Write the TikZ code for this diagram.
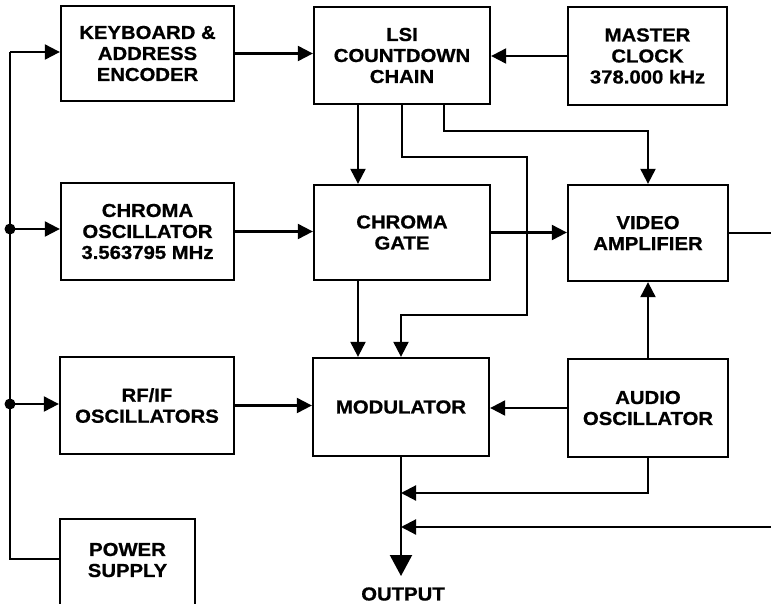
\documentclass[tikz,border=0pt]{standalone}
\usepackage{fontspec}
\setmainfont{Liberation Sans}[FakeStretch=1.08,FakeBold=0.8]
\usetikzlibrary{arrows.meta,calc}
\tikzset{
  blk/.style={draw, line width=2.3pt, inner sep=0pt, align=center,
    font=\bfseries\fontsize{18.8}{21}\selectfont},
  lbl/.style={inner sep=0pt, align=center, font=\bfseries\fontsize{18.8}{21}\selectfont},
  wire/.style={line width=2.1pt},
  arr/.style={wire, -{Triangle[length=15pt,width=15pt]}},
  bigarr/.style={wire, -{Triangle[length=21pt,width=22pt]}},
  dot/.style={circle, fill, inner sep=0pt, minimum size=11pt}
}
\begin{document}
\begin{tikzpicture}[x=1pt,y=-1pt]
\clip (0,0) rectangle (771,603);
\fill[white] (0,0) rectangle (771,603);

% blocks
\node[blk, minimum width=173, minimum height=95] (kb) at (147.5,53.5) {KEYBOARD \&\\ADDRESS\\ENCODER};
\node[blk, minimum width=176, minimum height=97] (lsi) at (402,55.5) {LSI\\COUNTDOWN\\CHAIN};
\node[blk, minimum width=159, minimum height=98] (mc) at (647.5,56) {MASTER\\CLOCK\\378.000 kHz};
\node[blk, minimum width=173, minimum height=97] (co) at (147.5,231.5) {CHROMA\\OSCILLATOR\\3.563795 MHz};
\node[blk, minimum width=176, minimum height=95] (cg) at (402,232.5) {CHROMA\\GATE};
\node[blk, minimum width=160, minimum height=96] (va) at (648,233) {VIDEO\\AMPLIFIER};
\node[blk, minimum width=174, minimum height=97] (rf) at (147,405.5) {RF/IF\\OSCILLATORS};
\node[blk, minimum width=176, minimum height=98] (mod) at (401,407) {MODULATOR};
\node[blk, minimum width=160, minimum height=98] (ao) at (648,408) {AUDIO\\OSCILLATOR};
\node[blk, minimum width=135, minimum height=100] (ps) at (127.5,569) {};
\node[lbl] (pst) at (127.5,560) {POWER\\SUPPLY};
\node[lbl, inner sep=2pt] (out) at (403,594) {OUTPUT};

% coordinates
\coordinate (b1) at (10,52);
\coordinate (b2) at (10,229);
\coordinate (b3) at (10,404);
\coordinate (b4) at (10,559);
\coordinate (r1) at (527,157);
\coordinate (r2) at (527,315);
\coordinate (r3) at (646,131);
\coordinate (vout) at (771,232);
\coordinate (j1) at (401,493);
\coordinate (j2) at (401,527);
\coordinate (ain) at (771,527);
\coordinate (otip) at (401,576);

% left bus
\draw[wire] (b1) -- (b4) -- (b4 -| ps.west);
\draw[arr] (b1) -- (b1 -| kb.west);
\draw[arr] (b2) -- (b2 -| co.west);
\draw[arr] (b3) -- (b3 -| rf.west);
\node[dot] at (b2) {};
\node[dot] at (b3) {};

% top row
\draw[arr] (kb.east) -- (kb.east -| lsi.west);
\draw[arr] (mc.west) -- (mc.west -| lsi.east);

% LSI outputs
\draw[arr] ([xshift=-44pt]lsi.south) -- ([xshift=-44pt]cg.north);
\draw[arr] (lsi.south) |- (r1) -- (r2) -| (mod.north);
\draw[arr] ([xshift=42pt]lsi.south) |- (r3) -| (va.north);

% middle row
\draw[arr] (co.east) -- (co.east -| cg.west);
\draw[arr] (cg.east) -- (cg.east -| va.west);
\draw[wire] (va.east) -- (va.east -| vout);
\draw[arr] ([xshift=-44pt]cg.south) -- ([xshift=-43pt]mod.north);

% bottom row
\draw[arr] (ao.north) -- (va.south);
\draw[arr] (ao.west) -- (ao.west -| mod.east);
\draw[arr] (rf.east) -- (rf.east -| mod.west);

% output
\draw[bigarr] (mod.south) -- (otip);
\draw[arr] (ao.south) |- (j1);
\draw[arr] (ain) -- (j2);
\end{tikzpicture}
\end{document}
